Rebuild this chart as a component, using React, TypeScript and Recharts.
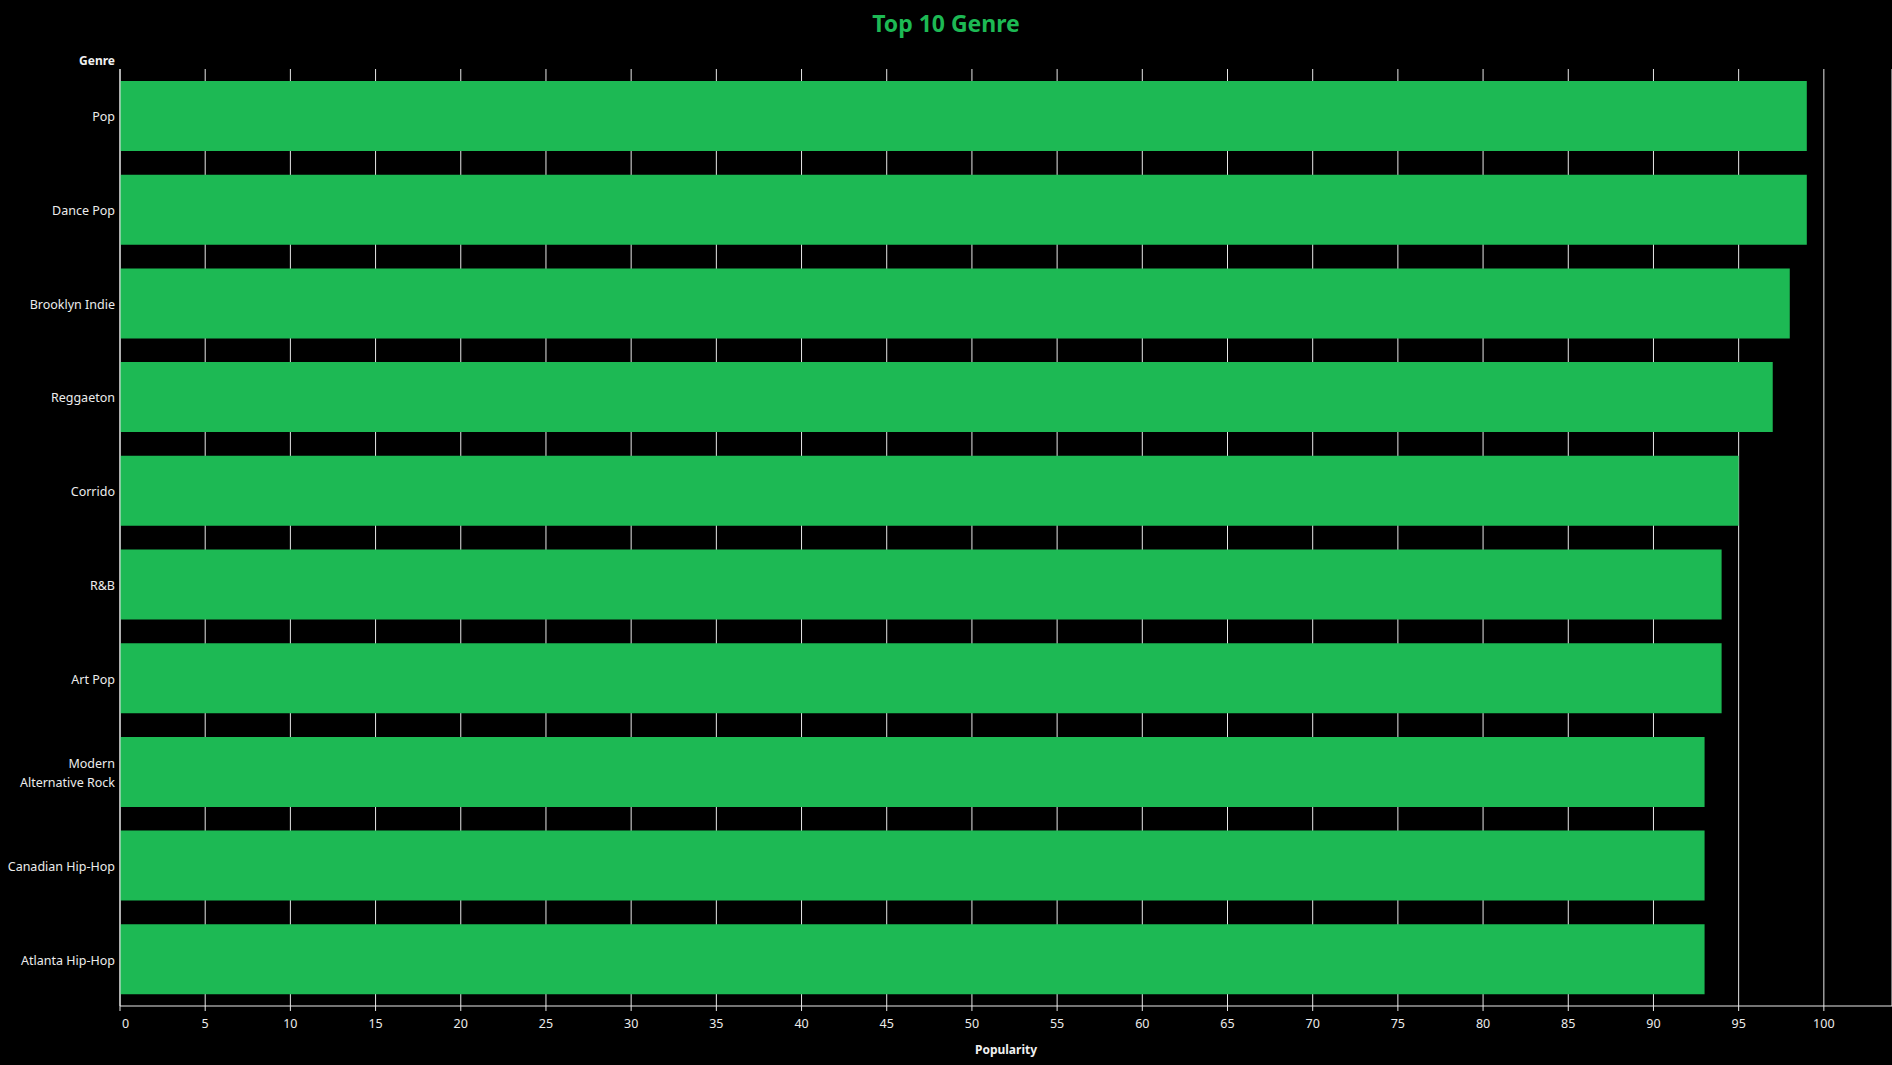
import { BarChart, Bar, XAxis, YAxis, CartesianGrid } from "recharts";

document.body.style.margin = "0";
document.body.style.background = "#000";
document.body.style.overflow = "hidden";

// genres, top to bottom
const genres = [
  "Pop",
  "Dance Pop",
  "Brooklyn Indie",
  "Reggaeton",
  "Corrido",
  "R&B",
  "Art Pop",
  "Modern Alternative Rock",
  "Canadian Hip-Hop",
  "Atlanta Hip-Hop",
];

const popularity = [99, 99, 98, 97, 95, 94, 94, 93, 93, 93];

const xTicks = [0, 5, 10, 15, 20, 25, 30, 35, 40, 45, 50, 55, 60, 65, 70, 75, 80, 85, 90, 95, 100];

const data = genres.map((name, i) => ({ name, value: popularity[i] }));

const GREEN = "#1DB954";
const FONT = "'Noto Sans', sans-serif";

// category labels, long ones split over two lines
const GenreTick = (props: any) => {
  const { x, y, payload } = props;
  const label: string = payload.value;
  const lines = label === "Modern Alternative Rock" ? ["Modern", "Alternative Rock"] : [label];
  const start = -((lines.length - 1) * 19) / 2 + 5.5;
  return (
    <text x={x + 3} y={y} textAnchor="end" fill="#ececec" fontSize={12.5} fontFamily={FONT}>
      {lines.map((l, i) => (
        <tspan key={i} x={x + 3} dy={i === 0 ? start : 19}>
          {l}
        </tspan>
      ))}
    </text>
  );
};

const ValueTick = (props: any) => {
  const { x, y, payload } = props;
  const zero = payload.value === 0;
  return (
    <text
      x={zero ? x + 2 : x}
      y={y + 15}
      textAnchor={zero ? "start" : "middle"}
      fill="#ececec"
      fontSize={12.5}
      fontFamily={FONT}
    >
      {payload.value}
    </text>
  );
};

export default function App() {
  return (
    <div style={{ position: "relative", width: 1892, height: 1065, background: "#000" }}>
      <div
        style={{
          position: "absolute",
          top: 7,
          left: 0,
          width: 1892,
          textAlign: "center",
          color: GREEN,
          fontFamily: FONT,
          fontWeight: 700,
          fontSize: 23,
        }}
      >
        Top 10 Genre
      </div>
      <div
        style={{
          position: "absolute",
          top: 52,
          left: 0,
          width: 115,
          textAlign: "right",
          color: "#f0f0f0",
          fontFamily: FONT,
          fontWeight: 700,
          fontSize: 12,
        }}
      >
        Genre
      </div>
      <BarChart
        width={1892}
        height={1065}
        data={data}
        layout="vertical"
        margin={{ top: 69, right: 0, bottom: 0, left: 0 }}
      >
        <CartesianGrid horizontal={false} stroke="#e8e8e8" strokeWidth={1} />
        <XAxis
          type="number"
          domain={[0, 104]}
          ticks={xTicks}
          height={59}
          axisLine={{ stroke: "#e8e8e8" }}
          tickLine={{ stroke: "#e8e8e8" }}
          tickSize={5}
          tick={<ValueTick />}
          interval={0}
          label={{
            value: "Popularity",
            position: "insideBottom",
            offset: 11,
            fill: "#f0f0f0",
            fontSize: 12,
            fontWeight: 700,
            fontFamily: FONT,
          }}
        />
        <YAxis
          type="category"
          dataKey="name"
          width={120}
          axisLine={{ stroke: "#e8e8e8" }}
          tickLine={false}
          tick={<GenreTick />}
          interval={0}
        />
        <Bar dataKey="value" fill={GREEN} barSize={70} isAnimationActive={false} />
      </BarChart>
    </div>
  );
}
